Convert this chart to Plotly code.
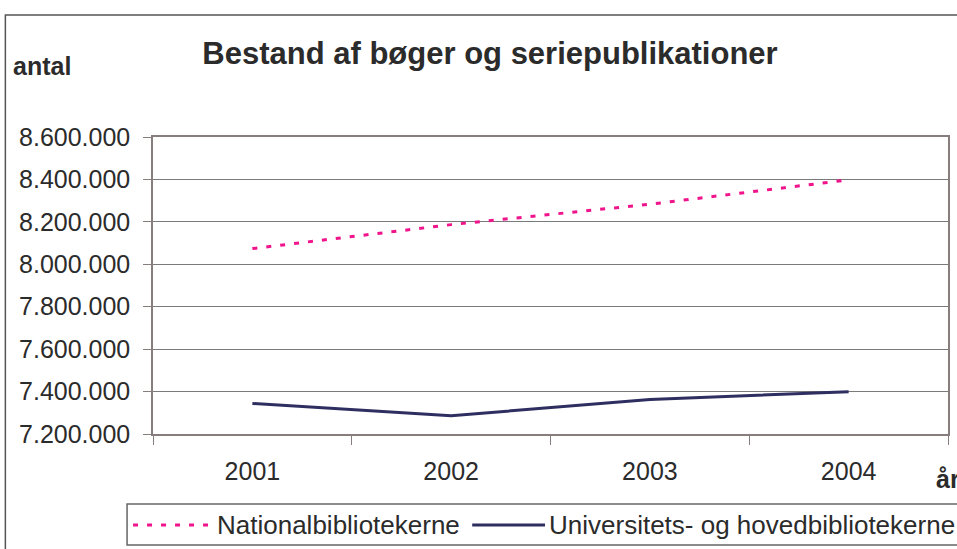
import plotly.graph_objects as go

# Data
YEARS = ["2001", "2002", "2003", "2004"]
SERIES_NAMES = ["Nationalbibliotekerne", "Universitets- og hovedbibliotekerne"]
NATIONAL = [8074000, 8187000, 8283000, 8398000]
UNIVERSITY = [7344000, 7286000, 7363000, 7399000]
Y_TICKS = [7200000, 7400000, 7600000, 7800000, 8000000, 8200000, 8400000, 8600000]

W, H = 957, 549
L, R, T, B = 153, 950, 137, 434  # plot area in pixels

FONT = "Liberation Sans, Arial, sans-serif"
TEXT = "#2b2b2b"
PINK = "#f0148c"
NAVY = "#2e2e60"
FRAME = "#877d7d"


def px(x=None, y=None):
    # pixel -> paper coordinates
    if x is not None:
        return (x - L) / (R - L)
    return (B - y) / (B - T)


fig = go.Figure()
fig.add_trace(go.Scatter(x=YEARS, y=NATIONAL, mode="lines", name=SERIES_NAMES[0],
                         line=dict(color=PINK, width=3, dash="5px,9px")))
fig.add_trace(go.Scatter(x=YEARS, y=UNIVERSITY, mode="lines", name=SERIES_NAMES[1],
                         line=dict(color=NAVY, width=3)))

fig.update_layout(
    width=W, height=H,
    margin=dict(l=L, r=W - R, t=T, b=H - B, pad=0),
    paper_bgcolor="white", plot_bgcolor="white",
    separators=",.",
    showlegend=False,
    font=dict(family=FONT, size=25, color=TEXT),
    title=dict(text="<b>Bestand af bøger og seriepublikationer</b>",
               x=490 / W, xanchor="center", y=1 - 53 / H, yanchor="middle",
               font=dict(size=31, color=TEXT)),
)

fig.update_xaxes(
    type="category", range=[-0.5, 3.5], tickson="boundaries",
    ticks="outside", ticklen=9, tickcolor=FRAME, tickwidth=1,
    showline=True, linecolor=FRAME, linewidth=1.5, mirror=True,
    showgrid=False, ticklabelstandoff=14,
    tickfont=dict(size=25, color=TEXT),
)
fig.update_yaxes(
    range=[7200000, 8600000], tickvals=Y_TICKS, tickformat=",d",
    ticks="outside", ticklen=8, tickcolor=FRAME, tickwidth=1,
    showline=True, linecolor=FRAME, linewidth=1.5, mirror=True,
    showgrid=True, gridcolor="#7a7a7a", gridwidth=1,
    ticklabelstandoff=8, zeroline=False,
    tickfont=dict(size=25, color=TEXT),
)

# outer chart frame (runs off the right and bottom edges, as in the source)
fig.add_shape(type="rect", xref="paper", yref="paper",
              x0=px(x=5), x1=px(x=1300), y0=px(y=800), y1=px(y=15),
              line=dict(color="#555555", width=1.5))

# axis titles
fig.add_annotation(text="<b>antal</b>", xref="paper", yref="paper",
                   x=px(x=11), y=px(y=66), xanchor="left", yanchor="middle",
                   showarrow=False, font=dict(size=25, color=TEXT))
fig.add_annotation(text="<b>år</b>", xref="paper", yref="paper",
                   x=px(x=936), y=px(y=479), xanchor="left", yanchor="middle",
                   showarrow=False, font=dict(size=25, color=TEXT))

# legend drawn by hand (box, sample lines, labels)
leg_y = 525
fig.add_shape(type="rect", xref="paper", yref="paper",
              x0=px(x=127), x1=px(x=1300), y0=px(y=545), y1=px(y=504),
              line=dict(color="#666666", width=1.5))
fig.add_shape(type="line", xref="paper", yref="paper",
              x0=px(x=133), x1=px(x=212), y0=px(y=leg_y), y1=px(y=leg_y),
              line=dict(color=PINK, width=3, dash="5px,9px"))
fig.add_shape(type="line", xref="paper", yref="paper",
              x0=px(x=473), x1=px(x=546), y0=px(y=leg_y), y1=px(y=leg_y),
              line=dict(color=NAVY, width=3))
fig.add_annotation(text=SERIES_NAMES[0], xref="paper", yref="paper",
                   x=px(x=215), y=px(y=leg_y), xanchor="left", yanchor="middle",
                   showarrow=False, font=dict(size=26, color=TEXT))
fig.add_annotation(text=SERIES_NAMES[1], xref="paper", yref="paper",
                   x=px(x=548), y=px(y=leg_y), xanchor="left", yanchor="middle",
                   showarrow=False, font=dict(size=26, color=TEXT))

# drop the default 8px body margin so the figure sits at the window corner
fig.write_html("out.html", config={"displayModeBar": False},
               post_script="document.body.style.margin='0';")
